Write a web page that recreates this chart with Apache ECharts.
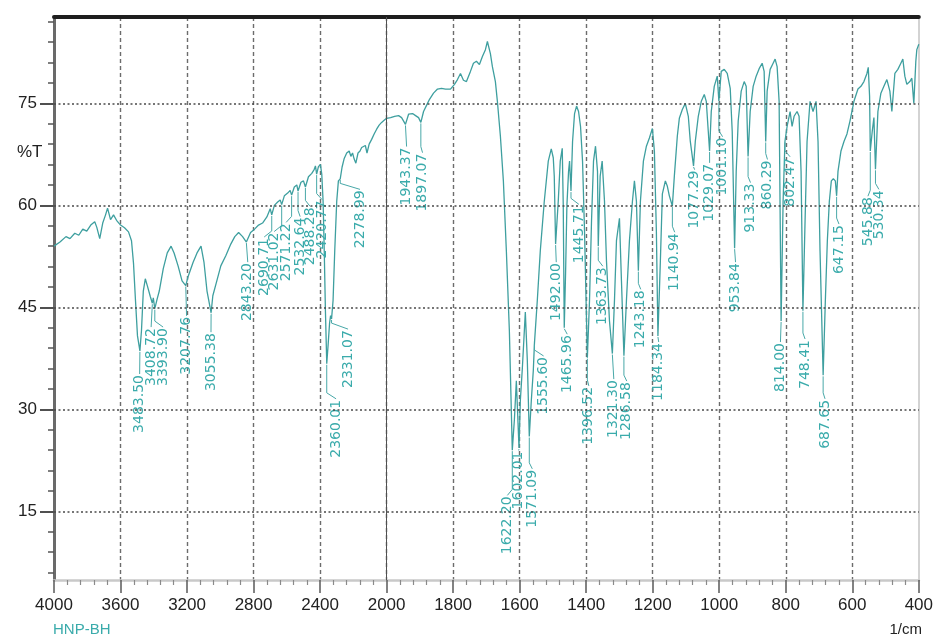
<!DOCTYPE html>
<html>
<head>
<meta charset="utf-8">
<script src="https://cdn.jsdelivr.net/npm/echarts@6/dist/echarts.min.js"></script>
<style>
  html, body { margin: 0; padding: 0; background: #ffffff; }
  #chart { width: 936px; height: 641px; }
</style>
</head>
<body>
<div id="chart"></div>
<script>
// FT-IR transmission spectrum of sample HNP-BH
const sampleName = 'HNP-BH';
const yAxisTitle = '%T';
const xAxisUnit = '1/cm';

// wavenumber (1/cm), descending
const wavenumbers = [
  4000, 3964, 3928, 3904, 3875, 3851, 3827, 3803, 3779, 3755, 3743, 3725, 3707, 3690, 3678, 3660, 3642, 3624,
  3600, 3576, 3552, 3534, 3522, 3510, 3498, 3483.50, 3474, 3463, 3451, 3439, 3421, 3408.72, 3403, 3393.90,
  3380, 3367, 3343, 3319, 3296, 3278, 3254, 3230, 3207.76, 3194, 3164, 3140, 3116, 3098, 3080, 3055.38,
  3045, 3021, 2997, 2967, 2937, 2913, 2890, 2866, 2843.20, 2818, 2794, 2770, 2746, 2720, 2700, 2690.71,
  2675, 2655, 2640, 2631.02, 2615, 2595, 2580, 2571.22, 2555, 2540, 2532.64, 2515, 2500, 2488.28, 2470,
  2450, 2435, 2428, 2420.77, 2410, 2398, 2390, 2382, 2375, 2368, 2360.01, 2352, 2343, 2337, 2331.07, 2322,
  2312, 2300, 2290, 2278.99, 2268, 2255, 2240, 2225, 2215, 2205, 2195, 2185, 2172, 2160, 2150, 2140, 2128,
  2118, 2105, 2090, 2075, 2060, 2045, 2030, 2015, 2000,
  1988, 1976, 1964, 1955, 1943.37, 1934, 1922, 1913, 1904, 1897.07, 1889, 1880, 1871, 1859, 1847, 1835,
  1823, 1808, 1796, 1787, 1778, 1769, 1760, 1748, 1739, 1730, 1721, 1712, 1703, 1697, 1688, 1682, 1673,
  1667, 1658, 1649, 1640, 1631, 1622.20, 1616, 1610, 1602.01, 1598, 1592, 1583, 1577, 1571.09, 1565, 1559,
  1555.60, 1547, 1538, 1526, 1514, 1505, 1499, 1496, 1492.00, 1484, 1478, 1472, 1469, 1465.96, 1462, 1458,
  1453, 1450, 1445.71, 1441, 1435, 1429, 1423, 1417, 1411, 1405, 1399, 1396.52, 1390, 1384, 1378, 1372,
  1366, 1363.73, 1358, 1352, 1345, 1339, 1330, 1321.30, 1315, 1309, 1300, 1294, 1286.58, 1279, 1270, 1261,
  1255, 1249, 1243.18, 1237, 1228, 1219, 1210, 1201, 1195, 1189, 1184.34, 1177, 1171, 1162, 1156, 1150,
  1140.94, 1135, 1126, 1120, 1111, 1102, 1093, 1087, 1077.29, 1072, 1063, 1054, 1045, 1039, 1033, 1029.07,
  1024, 1015, 1006, 1001.10, 994, 985, 976, 967, 961, 953.84, 949, 943, 934, 925, 919, 913.33, 907, 898,
  889, 880, 871, 865, 860.29, 856, 847, 838, 832, 826, 820, 814.00, 808, 802.47, 796, 787, 781, 775, 766,
  760, 754, 748.41, 742, 736, 727, 718, 709, 703, 697, 687.65, 681, 675, 669, 663, 657, 651, 647.15, 643,
  634, 625, 616, 607, 595, 583, 574, 565, 556, 552, 548, 545.88, 540, 535, 530.34, 523, 514, 505, 496, 487,
  481, 472, 463, 454, 448, 442, 436, 427, 421, 415, 409, 406, 400
];

// transmittance (%T) at each wavenumber above
const transmittance = [
  54.0, 54.6, 55.4, 55.1, 55.9, 55.6, 56.5, 56.2, 57.1, 57.6, 56.8, 55.1, 57.4, 58.6, 59.6, 57.9, 58.6, 57.8,
  57.1, 56.7, 56.1, 54.8, 51.5, 46.0, 40.8, 38.6, 41.6, 47.4, 49.2, 48.2, 46.6, 45.6, 46.4, 44.8,
  46.2, 47.4, 50.7, 53.0, 54.0, 53.0, 51.1, 48.9, 48.2, 49.5, 51.6, 53.0, 54.0, 51.6, 47.4, 44.2,
  46.7, 48.9, 51.1, 52.6, 54.3, 55.4, 56.0, 55.4, 54.6, 56.0, 56.5, 57.1, 57.4, 58.3, 59.5, 58.6,
  60.0, 60.5, 60.8, 60.1, 61.4, 61.8, 62.2, 61.5, 62.7, 63.0, 62.1, 63.4, 63.6, 62.7, 64.2,
  64.7, 65.3, 65.8, 64.6, 65.7, 66.0, 64.6, 60.6, 53.3, 44.5, 36.7, 39.4, 42.7, 43.8, 43.3, 46.0,
  53.3, 60.6, 63.6, 63.9, 65.6, 66.9, 67.7, 68.0, 67.2, 67.7, 66.8, 66.2, 67.7, 68.0, 68.5, 68.3, 68.8,
  67.7, 69.0, 69.7, 70.5, 71.2, 71.8, 72.2, 72.5, 72.8,
  72.9, 73.1, 73.2, 72.9, 71.9, 73.4, 73.5, 73.2, 72.9, 72.2, 73.8, 74.7, 75.6, 76.5, 77.1, 77.2,
  77.1, 77.1, 77.8, 78.5, 79.4, 78.4, 78.2, 79.7, 80.9, 81.2, 80.7, 81.9, 82.9, 84.1, 82.3, 80.4, 78.2,
  75.3, 70.2, 63.6, 53.3, 41.6, 24.0, 28.4, 34.2, 24.3, 31.3, 36.0, 44.3, 37.2, 26.0, 31.3, 35.7,
  39.7, 46.0, 53.3, 60.6, 66.5, 68.3, 67.0, 64.3, 54.3, 60.6, 66.5, 68.4, 60.0, 42.0, 50.0, 60.0,
  65.0, 66.5, 62.1, 69.4, 73.5, 74.6, 73.8, 71.6, 66.5, 56.2, 43.0, 37.6, 46.0, 57.7, 66.5, 68.7,
  65.0, 54.0, 64.3, 66.5, 60.6, 51.8, 43.0, 38.2, 46.0, 54.8, 58.1, 48.9, 37.9, 46.0, 54.8, 60.6,
  63.6, 60.6, 50.4, 60.6, 66.5, 68.7, 69.9, 71.3, 68.0, 56.2, 40.8, 51.8, 61.7, 63.6, 62.8, 61.4,
  59.9, 64.3, 70.2, 72.8, 74.1, 75.0, 73.1, 69.4, 65.8, 69.4, 73.1, 75.3, 76.3, 75.3, 70.9, 68.0,
  73.8, 77.5, 79.0, 75.3, 79.7, 80.0, 79.4, 77.2, 70.9, 53.7, 65.0, 72.4, 76.8, 78.2, 77.5, 67.2, 73.8, 77.5,
  79.0, 80.1, 80.9, 79.7, 69.4, 76.8, 80.0, 80.9, 81.5, 80.4, 75.3, 43.0, 60.6, 69.4, 71.6, 73.8, 71.6, 73.1, 73.8,
  73.1, 65.0, 44.5, 57.7, 69.4, 75.3, 73.8, 75.3, 69.4, 53.3, 35.0, 46.0, 54.8, 60.6, 63.6, 63.9, 63.6, 61.4, 65.0,
  68.0, 69.4, 70.5, 72.4, 75.3, 77.1, 77.5, 78.2, 79.4, 80.3, 76.0, 68.0, 70.9, 72.9, 65.3, 73.8, 76.5, 77.5, 78.5, 76.8,
  73.8, 79.4, 80.0, 80.9, 81.5, 79.0, 77.8, 78.2, 78.7, 75.0, 81.2, 82.9, 83.7
];

// picked band positions (1/cm)
const peakWavenumbers = [
  3483.50, 3408.72, 3393.90, 3207.76, 3055.38, 2843.20, 2690.71, 2631.02, 2571.22, 2532.64, 2488.28,
  2420.77, 2360.01, 2331.07, 2278.99, 1943.37, 1897.07, 1622.20, 1602.01, 1571.09, 1555.60, 1492.00,
  1465.96, 1445.71, 1396.52, 1363.73, 1321.30, 1286.58, 1243.18, 1184.34, 1140.94, 1077.29, 1029.07,
  1001.10, 953.84, 913.33, 860.29, 814.00, 802.47, 748.41, 687.65, 647.15, 545.88, 530.34
];

const xTickLabels = [4000, 3600, 3200, 2800, 2400, 2000, 1800, 1600, 1400, 1200, 1000, 800, 600, 400];
const yTickLabels = [15, 30, 45, 60, 75];

// where each rotated peak label hangs (top end of the text), in axis units
const peakLabelAnchorWn = [
  3485, 3416, 3344, 3203, 3056, 2835, 2736, 2676, 2604, 2520, 2460, 2388, 2304, 2232, 2160, 1940, 1892,
  1637, 1603, 1562, 1528, 1490, 1457, 1422, 1392, 1350, 1317, 1278, 1236, 1182, 1134, 1074, 1029, 990,
  951, 906, 855, 816, 787, 742, 682, 640, 553, 520
];
const peakLabelAnchorT = [
  35.05, 41.95, 41.95, 43.6, 41.2, 51.5, 55.2, 56.0, 57.35, 58.2, 59.7, 60.7, 31.4, 41.65, 62.2, 68.5, 67.6,
  17.2, 23.8, 21.1, 37.7, 51.5, 40.9, 60.0, 33.3, 50.9, 34.3, 34.0, 47.5, 39.75, 55.9, 65.1, 66.1, 69.95,
  51.5, 63.2, 66.6, 39.75, 67.0, 40.2, 31.4, 57.1, 61.2, 62.2
];

// The wavenumber axis is compressed 2:1 above 2000 1/cm, as on the instrument printout.
function wnToPos(w) { return w >= 2000 ? (4000 - w) / 2 : 1000 + (2000 - w); }
function posToWn(p) { return p <= 1000 ? 4000 - 2 * p : 2000 - (p - 1000); }

function transmittanceAt(w) {
  let best = 0;
  for (let i = 1; i < wavenumbers.length; i++) {
    if (Math.abs(wavenumbers[i] - w) < Math.abs(wavenumbers[best] - w)) best = i;
  }
  return transmittance[best];
}

const Y_MIN = 4.9, Y_MAX = 87.7;
const X_MIN = wnToPos(4000), X_MAX = wnToPos(400);

const spectrum = wavenumbers.map((w, i) => [wnToPos(w), transmittance[i]]);
const peakItems = peakWavenumbers.map((w, i) => [
  wnToPos(w), transmittanceAt(w), wnToPos(peakLabelAnchorWn[i]), peakLabelAnchorT[i]
]);

const minorY = [];
for (let v = 6; v <= 87; v += 3) if (v % 15 !== 0) minorY.push(v);

const TEAL = '#3e9f9f';
const LABEL_TEAL = '#3aabab';
const AXIS_FONT = '"Liberation Sans Narrow", "Liberation Sans", Arial, sans-serif';

const chart = echarts.init(document.getElementById('chart'), null, { renderer: 'canvas' });

chart.setOption({
  animation: false,
  backgroundColor: '#ffffff',
  grid: { left: 54, right: 14, top: 17, bottom: 61, containLabel: false },
  xAxis: [
    {
      type: 'value', position: 'bottom', min: X_MIN, max: X_MAX, interval: 200,
      axisLine: { show: true, onZero: false, lineStyle: { color: '#c9c9c9', width: 2.5 } },
      axisTick: { show: true, customValues: xTickLabels.map(wnToPos), length: 13,
                  lineStyle: { color: '#5a5a5a', width: 1.5 } },
      minorTick: { show: true, splitNumber: 5, length: 5, lineStyle: { color: '#8a8a8a', width: 1.2 } },
      axisLabel: {
        customValues: xTickLabels.map(wnToPos), margin: 17,
        formatter: v => String(Math.round(posToWn(v))),
        color: '#222222', fontSize: 17, fontFamily: AXIS_FONT
      },
      splitLine: { show: true, showMinLine: false, showMaxLine: false,
                   lineStyle: { color: '#6c6c6c', width: 1.4, type: [4, 3] } }
    },
    {
      type: 'value', position: 'top', min: X_MIN, max: X_MAX,
      axisLine: { show: true, onZero: false, lineStyle: { color: '#1e1e1e', width: 4 } },
      axisTick: { show: false }, axisLabel: { show: false }, splitLine: { show: false }
    }
  ],
  yAxis: [
    {
      type: 'value', position: 'left', min: Y_MIN, max: Y_MAX,
      axisLine: { show: true, onZero: false, lineStyle: { color: '#6a6a6a', width: 3 } },
      axisTick: { show: true, customValues: minorY, length: 6, lineStyle: { color: '#555555', width: 1.5 } },
      axisLabel: { customValues: yTickLabels, margin: 17, color: '#222222', fontSize: 17, fontFamily: AXIS_FONT },
      splitLine: { show: false }
    },
    {
      type: 'value', position: 'left', min: Y_MIN, max: Y_MAX,
      axisLine: { show: false },
      axisTick: { show: true, customValues: yTickLabels, length: 14, lineStyle: { color: '#505050', width: 2 } },
      axisLabel: { show: false }, splitLine: { show: false }
    },
    {
      type: 'value', position: 'right', min: Y_MIN, max: Y_MAX,
      axisLine: { show: true, onZero: false, lineStyle: { color: '#c4c4c4', width: 1.5 } },
      axisTick: { show: false }, axisLabel: { show: false }, splitLine: { show: false }
    }
  ],
  graphic: [
    { type: 'text', left: 17, top: 144, style: { text: yAxisTitle, fill: '#222222', font: '17px ' + AXIS_FONT } },
    { type: 'text', left: 53, top: 622, style: { text: sampleName, fill: LABEL_TEAL, font: '15px ' + AXIS_FONT } },
    { type: 'text', right: 14, top: 622, style: { text: xAxisUnit, fill: '#222222', font: '15px ' + AXIS_FONT } }
  ],
  series: [
    {
      type: 'line', xAxisIndex: 0, yAxisIndex: 0, z: 3,
      data: spectrum, showSymbol: false, symbol: 'none', smooth: false,
      lineStyle: { color: TEAL, width: 1.3 },
      markLine: {
        silent: true, symbol: ['none', 'none'], label: { show: false }, animation: false,
        data: yTickLabels.map(v => ({ yAxis: v, lineStyle: { color: '#4a4a4a', width: 1.6, type: [2, 2.5] } }))
          .concat([{ xAxis: wnToPos(2000), lineStyle: { color: '#505050', width: 1, type: 'solid' } }])
      }
    },
    {
      type: 'custom', xAxisIndex: 0, yAxisIndex: 0, z: 4, clip: false,
      data: peakItems,
      renderItem: function (params, api) {
        const a = api.coord([api.value(0), api.value(1)]);
        const b = api.coord([api.value(2), api.value(3)]);
        const text = peakWavenumbers[params.dataIndex].toFixed(2);
        const pts = [[a[0], a[1] + 1]];
        if (Math.abs(b[0] - a[0]) > 1.5) {
          pts.push([a[0], Math.max(a[1] + 1, b[1] - 7)]);
        }
        pts.push([b[0], Math.max(a[1] + 1, b[1] - 1)]);
        return {
          type: 'group',
          children: [
            { type: 'polyline', shape: { points: pts },
              style: { stroke: '#48a8a8', lineWidth: 1, fill: null } },
            { type: 'text', x: b[0], y: b[1], rotation: Math.PI / 2,
              style: { text: text, fill: LABEL_TEAL, font: '14px "DejaVu Sans", sans-serif',
                       align: 'right', verticalAlign: 'middle' } }
          ]
        };
      }
    }
  ]
});
</script>
</body>
</html>
